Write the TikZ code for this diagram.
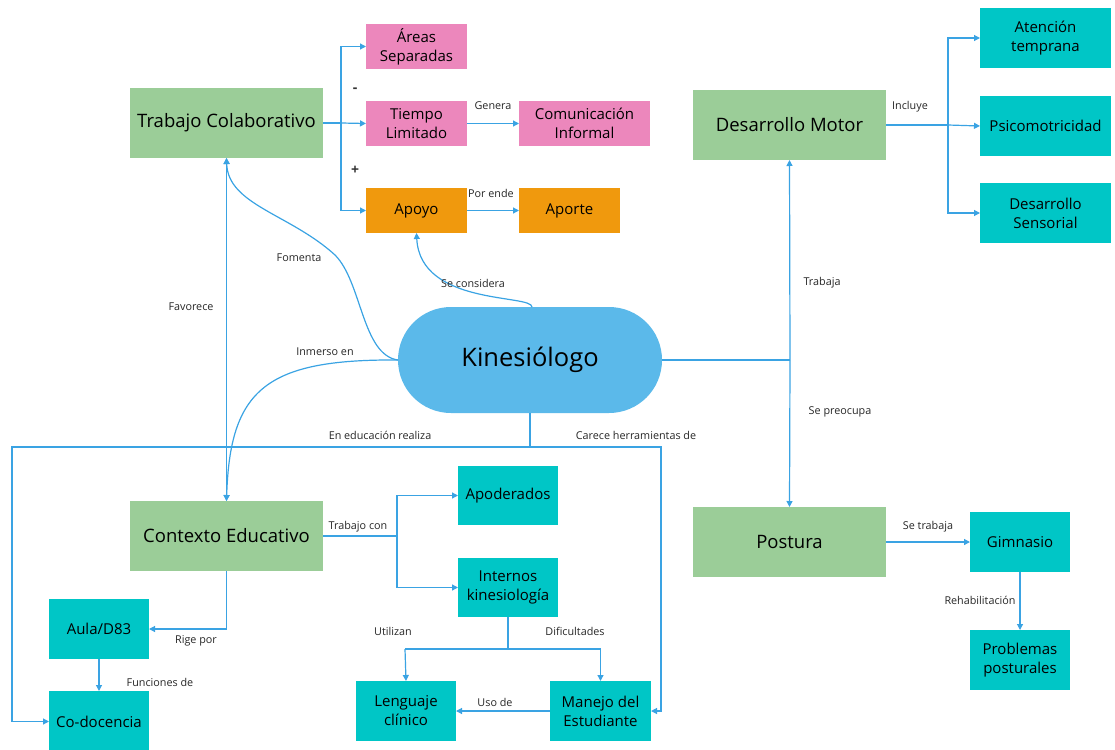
\documentclass[tikz,border=0pt]{standalone}
\usepackage{fontspec}
\setmainfont{Open Sans}
\usetikzlibrary{arrows.meta}
\definecolor{cgreen}{RGB}{155,205,152}
\definecolor{cpink}{RGB}{236,135,188}
\definecolor{corange}{RGB}{240,153,13}
\definecolor{cteal}{RGB}{0,198,198}
\definecolor{ckin}{RGB}{91,185,234}
\definecolor{cline}{RGB}{58,163,227}
\tikzset{
  box/.style={inner sep=2pt, outer sep=0pt, align=center, text=black, font=\fontsize{15}{19}\selectfont},
  gbox/.style={box, fill=cgreen, minimum width=193pt, minimum height=70pt, font=\fontsize{18.5}{22}\selectfont},
  pbox/.style={box, fill=cpink, minimum height=45pt},
  obox/.style={box, fill=corange, minimum height=45pt},
  tbox/.style={box, fill=cteal, minimum width=100pt, minimum height=60pt},
  lbl/.style={font=\fontsize{10.8}{12}\selectfont, text=black!85, inner sep=1pt},
  sgn/.style={font=\fontsize{14}{16}\selectfont\bfseries, text=black!80, inner sep=0pt},
  ln/.style={draw=cline, line width=1.2pt},
  arr/.style={ln, -{Triangle[width=6pt,length=6pt]}},
  darr/.style={ln, {Triangle[width=6pt,length=6pt]}-{Triangle[width=6pt,length=6pt]}},
}
\begin{document}
\begin{tikzpicture}[x=1pt,y=-1pt]
\useasboundingbox (0,0) rectangle (1115,749);
\clip (0,0) rectangle (1115,749);
% nodes
\node[gbox] (tc) at (226.5,123) {Trabajo Colaborativo};
\node[pbox, minimum width=101pt] (as) at (416.5,46.5) {Áreas\\Separadas};
\node[pbox, minimum width=101pt] (tl) at (416.5,123.5) {Tiempo\\Limitado};
\node[pbox, minimum width=131pt] (ci) at (584.5,123.5) {Comunicación\\Informal};
\node[obox, minimum width=101pt] (ap) at (416.5,210.5) {Apoyo};
\node[obox, minimum width=101pt] (at) at (569.5,210.5) {Aporte};
\node[gbox] (dm) at (789.5,125) {Desarrollo Motor};
\node[tbox, minimum width=131pt] (ate) at (1045.5,38) {Atención\\temprana};
\node[tbox, minimum width=131pt] (psi) at (1045.5,126) {Psicomotricidad};
\node[tbox, minimum width=131pt] (ds) at (1045.5,213) {Desarrollo\\Sensorial};
\node[fill=ckin, rounded corners=52.9pt, minimum width=264pt, minimum height=106pt, inner sep=0pt, outer sep=0pt, font=\fontsize{25.5}{30}\selectfont] (kin) at (530,360) {Kinesiólogo};
\node[gbox] (ce) at (226.5,536) {Contexto Educativo};
\node[tbox, minimum height=59pt] (apo) at (508,495.5) {Apoderados};
\node[tbox, minimum height=59pt] (ik) at (508,587.5) {Internos\\kinesiología};
\node[tbox] (lc) at (406,711) {Lenguaje\\clínico};
\node[tbox, minimum width=101pt] (me) at (600.5,711) {Manejo del\\Estudiante};
\node[tbox] (aula) at (99,629) {Aula/D83};
\node[tbox, minimum height=61pt] (cod) at (99,721.5) {Co-docencia};
\node[gbox] (pos) at (789.5,542) {Postura};
\node[tbox] (gim) at (1020,542) {Gimnasio};
\node[tbox] (pp) at (1020,660) {Problemas\\posturales};
% coordinates
\coordinate (b1) at (341,123);
\coordinate (b2) at (948,125);
\coordinate (k1) at (790,360);
\coordinate (k2) at (530,447);
\coordinate (c1) at (12,447);
\coordinate (c2) at (661,447);
\coordinate (b3) at (397,536);
\coordinate (b4) at (508,649);
\coordinate (b5) at (405,649);
\coordinate (b6) at (600.5,649);
% trabajo colaborativo branch
\draw[ln] (tc.east) -- (b1);
\draw[arr] (b1) |- (as.west);
\draw[arr] (b1) -- (tl.west);
\draw[arr] (b1) |- (ap.west);
\node[sgn] at (355,90) {-};
\node[sgn] at (355,170) {+};
\draw[arr] (tl.east) -- (ci.west);
\node[lbl] at (493,106) {Genera};
\draw[arr] (ap.east) -- (at.west);
\node[lbl] at (491,193) {Por ende};
% desarrollo motor branch
\draw[ln] (dm.east) -- (b2);
\draw[arr] (b2) |- (ate.west);
\draw[arr] (b2) -- (psi.west);
\draw[arr] (b2) |- (ds.west);
\node[lbl] at (910,107) {Incluye};
% kinesiologo right
\draw[ln] (kin.east) -- (k1);
\draw[arr] (k1) -- (dm.south);
\draw[arr] (k1) -- (pos.north);
\node[lbl] at (822,283) {Trabaja};
\node[lbl] at (840,412) {Se preocupa};
% favorece
\draw[darr] (tc.south) -- (ce.north);
\node[lbl] at (191,307) {Favorece};
% fomenta
\draw[arr] (kin.west) .. controls (362,355) and (362,282) .. (335,255) .. controls (290,214) and (228,205) .. (tc.south);
\node[lbl] at (299,258) {Fomenta};
% inmerso en
\draw[arr] (kin.west) .. controls (265,359) and (230,390) .. (ce.north);
\node[lbl] at (325,352) {Inmerso en};
% se considera
\draw[arr] ([xshift=2pt]kin.north) .. controls (532,294) and (420,306) .. (ap.south);
\node[lbl] at (473,283) {Se considera};
% en educacion / carece
\draw[ln] (kin.south) -- (k2);
\draw[arr] (k2) -- (c1) |- (cod.west);
\draw[arr] (k2) -- (c2) |- (me.east);
\node[lbl] at (380,435) {En educación realiza};
\node[lbl] at (636,435) {Carece herramientas de};
% contexto educativo
\draw[ln] (ce.east) -- (b3);
\draw[arr] (b3) |- (apo.west);
\draw[arr] (b3) |- (ik.west);
\node[lbl] at (358,527) {Trabajo con};
\draw[ln] (ik.south) -- (b4);
\draw[ln] (b5) -- (b6);
\draw[arr] (b5) -- (lc.north);
\draw[arr] (b6) -- (me.north);
\node[lbl] at (393,631) {Utilizan};
\node[lbl] at (575,631) {Dificultades};
\draw[arr] (me.west) -- (lc.east);
\node[lbl] at (495,702) {Uso de};
\draw[arr] (ce.south) |- (aula.east);
\node[lbl] at (196,641) {Rige por};
\draw[arr] (aula.south) -- (cod.north);
\node[lbl] at (160,682) {Funciones de};
% postura
\draw[arr] (pos.east) -- (gim.west);
\node[lbl] at (928,527) {Se trabaja};
\draw[arr] (gim.south) -- (pp.north);
\node[lbl] at (980,600) {Rehabilitación};
\end{tikzpicture}
\end{document}
